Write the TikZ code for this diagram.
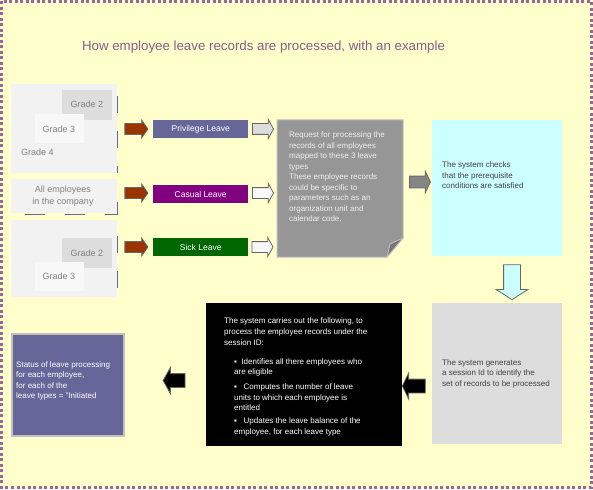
\documentclass[tikz,border=0pt]{standalone}
\usepackage{fontspec}
\setmainfont{Liberation Sans}
\usetikzlibrary{shapes.arrows,positioning}

\definecolor{paper yellow}{HTML}{FFFFCC}
\definecolor{frame purple}{HTML}{996699}
\definecolor{panel gray}{HTML}{F2F2F2}
\definecolor{mid gray}{HTML}{DDDDDD}
\definecolor{pale gray}{HTML}{F8F8F8}
\definecolor{grade text}{HTML}{7F7F7F}
\definecolor{slate}{HTML}{666699}
\definecolor{plum}{HTML}{800080}
\definecolor{leaf}{HTML}{006600}
\definecolor{rust}{HTML}{993300}
\definecolor{arrow edge}{HTML}{666666}
\definecolor{sheet gray}{HTML}{969696}
\definecolor{sheet edge}{HTML}{C0C0C0}
\definecolor{ice}{HTML}{CCFFFF}
\definecolor{body text}{HTML}{404040}

\begin{document}
\begin{tikzpicture}
                [
                    x=1pt, y=-1pt,
                    every node/.style={font=\fontsize{8}{10.5}\selectfont},
                    panel/.style={anchor=north west, inner sep=0pt},
                    grade/.style={text=grade text, font=\fontsize{9}{11.5}\selectfont},
                    leave bar/.style={panel, minimum width=95pt, minimum height=18pt},
                    leave label/.style={text=white, font=\fontsize{8.5}{10}\selectfont},
                    note text/.style={anchor=north west, inner sep=0pt, align=left},
                    group edge/.style={color=slate, line width=1pt},
                    block arrow/.style={single arrow, draw=arrow edge, line width=0.8pt,
                        inner xsep=0pt, single arrow head indent=0pt},
                    feed arrow/.style={block arrow, fill=rust, minimum height=23pt,
                        inner ysep=5pt, single arrow head extend=3.5pt,
                        single arrow tip angle=110},
                    hand arrow/.style={block arrow, minimum height=21pt,
                        inner ysep=5pt, single arrow head extend=4pt,
                        single arrow tip angle=122},
                    back arrow/.style={block arrow, fill=black, inner ysep=6.5pt,
                        single arrow head extend=6pt, shape border rotate=180}
                ]
                \useasboundingbox (0,0) rectangle (593,489);
                \fill [paper yellow] (0,0) rectangle (593,489);
                \draw [frame purple, line width=3pt, dash pattern=on 3pt off 2.5pt]
                    (1.5,1.5) rectangle (591,487);

                \node (title) [text=frame purple!90!black, font=\fontsize{13.3}{15}\selectfont]
                    at (263.5,47)
                    {How employee leave records are processed, with an example};

                % left hand groups of employees
                \node (upper grades)
                    [panel, fill=panel gray, minimum width=106pt, minimum height=89pt]
                    at (11,84) {};
                \node (upper grade 2)
                    [panel, fill=mid gray, minimum width=50pt, minimum height=30pt]
                    at (62,90) {};
                \node (upper grade 3)
                    [panel, fill=pale gray, minimum width=49pt, minimum height=29pt]
                    at (35,114) {};
                \node (upper grade 2 text) [grade] at (87,104) {Grade 2};
                \node (upper grade 3 text) [grade] at (59,129) {Grade 3};
                \node (upper grade 4 text) [grade, anchor=west, inner sep=0pt]
                    at (21,152) {Grade 4};

                \node (all staff)
                    [panel, fill=panel gray, minimum width=106pt, minimum height=34pt]
                    at (11,179) {};
                \node (all staff text) [grade, align=center] at (63,196)
                    {All employees\\in the company};

                \node (lower grades)
                    [panel, fill=panel gray, minimum width=106pt, minimum height=77pt]
                    at (11,220) {};
                \node (lower grade 2)
                    [panel, fill=mid gray, minimum width=50pt, minimum height=30pt]
                    at (62,238) {};
                \node (lower grade 3)
                    [panel, fill=pale gray, minimum width=49pt, minimum height=29pt]
                    at (35,262) {};
                \node (lower grade 2 text) [grade] at (87,253) {Grade 2};
                \node (lower grade 3 text) [grade] at (59,276) {Grade 3};

                \draw [group edge] (117,96) -- (117,113);
                \draw [group edge] (117,131) -- (117,148);
                \draw [group edge] (117,166) -- (117,173);
                \draw [group edge] (117,202) -- (117,214) -- (105,214);
                \draw [group edge] (85,214) -- (65,214);
                \draw [group edge] (45,214) -- (25,214);
                \draw [group edge] (117,236) -- (117,253);
                \draw [group edge] (117,271) -- (117,288);

                % leave types
                \node (feed 1) [feed arrow] at (134.5,129) {};
                \node (feed 2) [feed arrow] at (134.5,193) {};
                \node (feed 3) [feed arrow] at (134.5,247) {};

                \node (privilege) [leave bar, fill=slate] at (153,120) {};
                \node (casual) [leave bar, fill=plum] at (153,185) {};
                \node (sick) [leave bar, fill=leaf] at (153,238) {};
                \node (privilege text) [leave label] at (privilege.center) {Privilege Leave};
                \node (casual text) [leave label] at (casual.center) {Casual Leave};
                \node (sick text) [leave label] at (sick.center) {Sick Leave};

                \node (hand 1) [hand arrow, fill=mid gray] at (261.5,129) {};
                \node (hand 2) [hand arrow, fill=pale gray] at (261.5,193) {};
                \node (hand 3) [hand arrow, fill=pale gray] at (261,247) {};

                % request sheet with folded corner
                \draw [fill=sheet gray, draw=sheet edge, line width=1pt]
                    (277,120) -- (403,120) -- (403,238) -- (387,257) -- (277,257) -- cycle;
                \draw [fill=arrow edge!90, draw=sheet edge, line width=0.8pt]
                    (387,257) -- (390,244) -- (403,238) -- cycle;
                \node (request text) [note text, text=white!94!black] at (289,132)
                    {Request for processing the\\
                     records of all employees\\
                     mapped to these 3 leave\\
                     types\\
                     These employee records\\
                     could be specific to\\
                     parameters such as an\\
                     organization unit and\\
                     calendar code.};

                \node (to check) [block arrow, fill=arrow edge!80, minimum height=21pt,
                        inner ysep=5.5pt, single arrow head extend=5pt,
                        single arrow tip angle=129]
                    at (418.5,182) {};

                % system steps
                \node (check) [panel, fill=ice, minimum width=130pt, minimum height=136pt]
                    at (432,120) {};
                \node (check text) [note text, text=body text] at (442,162)
                    {The system checks\\
                     that the prerequisite\\
                     conditions are satisfied};

                \node (to session) [block arrow, fill=ice, minimum height=35pt,
                        inner xsep=8pt, inner ysep=0pt, single arrow head extend=7.5pt,
                        single arrow tip angle=114, shape border rotate=270]
                    at (512,279.5) {};

                \node (session) [panel, fill=mid gray, minimum width=130pt, minimum height=141pt]
                    at (432,303) {};
                \node (session text) [note text, text=body text] at (442,359)
                    {The system generates\\
                     a session Id to identify the\\
                     set of records to be processed};

                \node (to process) [back arrow, minimum height=23pt,
                        single arrow tip angle=128]
                    at (415.5,386) {};

                \node (process) [panel, fill=black, minimum width=196pt, minimum height=143pt]
                    at (206,303) {};
                \node (process head) [note text, text=white] at (224,318)
                    {The system carries out the following, to\\
                     process the employee records under the\\
                     session ID:};
                \node (process list) [note text, text=white] at (234,358)
                    {▪\ \ Identifies all there employees who\\
                     are eligible\\[4.5pt]
                     ▪\ \ \ Computes the number of leave\\
                     units to which each employee is\\
                     entitled\\[2.5pt]
                     ▪\ \ \ Updates the leave balance of the\\
                     employee, for each leave type};

                \node (to status) [back arrow, minimum height=22pt,
                        single arrow tip angle=121]
                    at (176,380.5) {};

                \node (status)
                    [panel, fill=slate, draw=sheet edge, line width=2pt,
                        minimum width=112pt, minimum height=102pt]
                    at (11,333) {};
                \node (status text) [note text, text=white] at (16,361)
                    {Status of leave processing\\
                     for each employee,\\
                     for each of the\\
                     leave types = "Initiated};

            \end{tikzpicture}
\end{document}
